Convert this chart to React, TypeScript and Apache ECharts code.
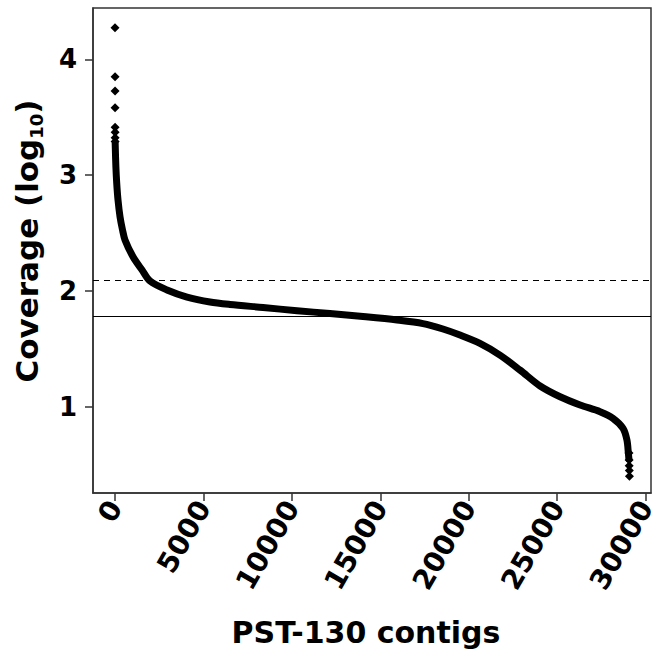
import React, { useEffect, useRef } from "react";
import * as echarts from "echarts";

// Sorted coverage curve (contig rank, log10 coverage)
const curveX = [10, 20, 50, 96, 170, 283, 424, 565, 1018, 1530, 1980, 2940, 4070, 5370, 6500, 8370, 10290, 12150, 14020, 15940, 17410, 18540, 19500, 20630, 21760, 22900, 24030, 25160, 26290, 27420, 28150, 28720, 28940, 29020, 29050];
const curveY = [3.275, 3.217, 3.07, 2.932, 2.785, 2.641, 2.527, 2.44, 2.295, 2.18, 2.085, 2.008, 1.947, 1.904, 1.883, 1.857, 1.829, 1.805, 1.779, 1.749, 1.718, 1.671, 1.619, 1.547, 1.446, 1.316, 1.179, 1.086, 1.015, 0.957, 0.9, 0.813, 0.712, 0.6, 0.55];

// Individually visible points (top outliers and bottom tail)
const pointX = [1, 2, 3, 4, 5, 6, 7, 8, 29055, 29062, 29068, 29074, 29080];
const pointY = [4.273, 3.85, 3.726, 3.582, 3.413, 3.37, 3.323, 3.29, 0.6, 0.54, 0.49, 0.45, 0.4];

const xTicks = [0, 5000, 10000, 15000, 20000, 25000, 30000];
const yTicks = [1, 2, 3, 4];

const dashedLevel = 2.086;
const solidLevel = 1.78;

const xTitle = "PST-130 contigs";

const FONT = "DejaVu Sans";

export default function App() {
  const ref = useRef<HTMLDivElement>(null);
  useEffect(() => {
    document.body.style.margin = "0";
    const chart = echarts.init(ref.current!, null, { renderer: "svg" });
    const curve = curveX.map((x, i) => [x, curveY[i]]);
    const pts = pointX.map((x, i) => [x, pointY[i]]);
    chart.setOption({
      animation: false,
      backgroundColor: "#fff",
      grid: {
        left: 93,
        top: 8,
        right: 11,
        bottom: 173,
        show: true,
        borderColor: "#333",
        borderWidth: 1.5,
        backgroundColor: "transparent",
      },
      xAxis: {
        type: "value",
        min: -1244,
        max: 30300,
        name: xTitle,
        nameLocation: "middle",
        nameGap: 124,
        nameTextStyle: { fontSize: 30, fontWeight: "bold", fontFamily: FONT, color: "#000", padding: [0, 12, 0, 0] },
        axisLine: { show: true, onZero: false, lineStyle: { color: "#333", width: 1.5 } },
        splitLine: { show: false },
        axisTick: {
          show: true,
          inside: false,
          length: 8,
          customValues: xTicks,
          lineStyle: { color: "#333", width: 1.5 },
        },
        axisLabel: {
          customValues: xTicks,
          rotate: 60,
          margin: 10,
          fontSize: 28,
          fontWeight: "bold",
          fontFamily: FONT,
          color: "#000",
          formatter: (v: number) => String(v),
        },
      },
      yAxis: {
        type: "value",
        min: 0.255,
        max: 4.443,
        axisLine: { show: true, onZero: false, lineStyle: { color: "#333", width: 1.5 } },
        splitLine: { show: false },
        axisTick: {
          show: true,
          inside: false,
          length: 8,
          customValues: yTicks,
          lineStyle: { color: "#333", width: 1.5 },
        },
        axisLabel: {
          customValues: yTicks,
          margin: 16,
          fontSize: 26,
          fontWeight: "bold",
          fontFamily: FONT,
          color: "#000",
          formatter: (v: number) => String(v),
        },
      },
      graphic: [
        {
          type: "text",
          x: 27,
          y: 241,
          rotation: Math.PI / 2,
          style: {
            text: "{m|Coverage (log}{s|10}{m|)}",
            align: "center",
            verticalAlign: "middle",
            rich: {
              m: { fontSize: 31, fontWeight: "bold", fontFamily: FONT, fill: "#000", lineHeight: 36 },
              s: { fontSize: 18, fontWeight: "bold", fontFamily: FONT, fill: "#000", lineHeight: 14, verticalAlign: "bottom" },
            },
          },
        },
      ],
      series: [
        {
          type: "line",
          data: curve,
          showSymbol: false,
          symbol: "none",
          smooth: 0.3,
          lineStyle: { width: 7, color: "#000", cap: "round", join: "round" },
          z: 3,
          markLine: {
            silent: true,
            symbol: ["none", "none"],
            label: { show: false },
            lineStyle: { color: "#000", width: 1 },
            data: [
              { yAxis: dashedLevel, lineStyle: { type: [6, 5], color: "#000", width: 1 } },
              { yAxis: solidLevel, lineStyle: { type: "solid", color: "#000", width: 1 } },
            ],
          },
        },
        {
          type: "scatter",
          data: pts,
          symbol: "diamond",
          symbolSize: 9,
          itemStyle: { color: "#000", opacity: 1 },
          z: 4,
        },
      ],
    });
    return () => chart.dispose();
  }, []);
  return <div ref={ref} style={{ width: 662, height: 666 }} />;
}
